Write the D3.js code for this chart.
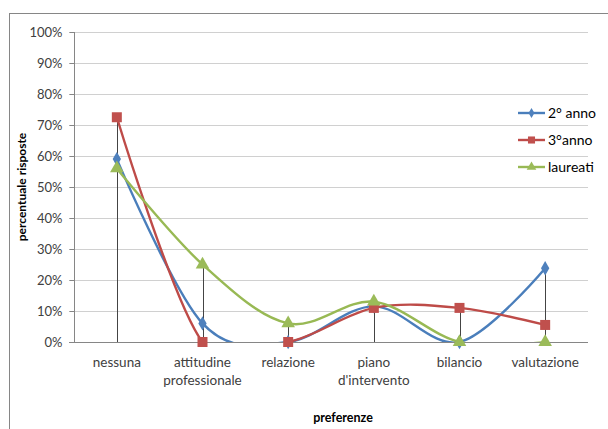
<!DOCTYPE html>
<html>
<head>
<meta charset="utf-8">
<script src="https://cdn.jsdelivr.net/npm/d3@7"></script>
<style>
  html, body { margin: 0; padding: 0; background: #fff; }
  svg { display: block; font-family: Lato, "Liberation Sans", sans-serif; }
</style>
</head>
<body>
<svg id="chart" width="608" height="429"></svg>
<script>
// Categories (x axis), multi-line labels
const categories = ["nessuna", "attitudine professionale", "relazione", "piano d'intervento", "bilancio", "valutazione"];
const categoryLines = [["nessuna"], ["attitudine", "professionale"], ["relazione"], ["piano", "d'intervento"], ["bilancio"], ["valutazione"]];

// Percentage of answers per series
const anno2 = [59, 6, 0, 11.5, 0, 23.8];
const anno3 = [72.5, 0, 0, 11, 11, 5.5];
const laureati = [56, 25, 6, 13, 0, 0];

const seriesNames = ["2° anno", "3°anno", "laureati"];
const yTicks = [0, 10, 20, 30, 40, 50, 60, 70, 80, 90, 100];

const series = [
  { name: seriesNames[0], values: anno2, line: "#4A7EBB", fill: "#4F81BD", symbol: "diamond" },
  { name: seriesNames[1], values: anno3, line: "#BE4B48", fill: "#C0504D", symbol: "square" },
  { name: seriesNames[2], values: laureati, line: "#98B954", fill: "#9BBB59", symbol: "triangle" }
];

const svg = d3.select("#chart");

// chart frame
svg.append("rect")
  .attr("x", 9.5).attr("y", 13.5)
  .attr("width", 620).attr("height", 440)
  .attr("fill", "#fff").attr("stroke", "#868686").attr("stroke-width", 1);

const plot = { left: 74, right: 588, top: 32, bottom: 342 };

const x = d3.scaleBand().domain(categories).range([plot.left, plot.right]);
const y = d3.scaleLinear().domain([0, 100]).range([plot.bottom, plot.top]);
const cx = c => x(c) + x.bandwidth() / 2;

// horizontal gridlines
svg.append("g")
  .selectAll("line")
  .data(yTicks)
  .join("line")
  .attr("x1", plot.left - 5).attr("x2", plot.right)
  .attr("y1", d => Math.round(y(d)) + 0.5).attr("y2", d => Math.round(y(d)) + 0.5)
  .attr("stroke", d => d === 0 ? "#868686" : "#D0D0D0")
  .attr("stroke-width", 1.2);

// y axis
const yAxis = d3.axisLeft(y).tickValues(yTicks).tickFormat(d => d + "%").tickSize(5).tickPadding(7);
const gy = svg.append("g").attr("transform", `translate(${plot.left + 0.5},0)`).call(yAxis);
gy.select(".domain").attr("stroke", "#868686").attr("d", `M0,${plot.top}V${plot.bottom}`);
gy.selectAll(".tick line").attr("stroke", "#868686");
gy.selectAll(".tick text").attr("font-size", 13).attr("fill", "#404040").attr("font-family", "Lato, sans-serif");

// x category labels
const xl = svg.append("g");
categories.forEach((c, i) => {
  const t = xl.append("text")
    .attr("x", cx(c)).attr("y", 367)
    .attr("text-anchor", "middle")
    .attr("font-size", 13.5).attr("fill", "#404040");
  categoryLines[i].forEach((ln, j) => {
    t.append("tspan").attr("x", cx(c)).attr("dy", j === 0 ? 0 : 18).text(ln);
  });
});

// axis titles
svg.append("text")
  .attr("transform", "translate(26,187) rotate(-90)")
  .attr("text-anchor", "middle")
  .attr("font-size", 12).attr("font-weight", "bold").attr("fill", "#000")
  .text("percentuale risposte");

svg.append("text")
  .attr("x", 343).attr("y", 422)
  .attr("text-anchor", "middle")
  .attr("font-size", 12.5).attr("font-weight", "bold").attr("fill", "#000")
  .text("preferenze");

// clip for smoothed lines
svg.append("clipPath").attr("id", "plotClip")
  .append("rect")
  .attr("x", plot.left).attr("y", plot.top)
  .attr("width", plot.right - plot.left).attr("height", plot.bottom - plot.top);

// drop lines from the highest value down to the axis
svg.append("g")
  .selectAll("line")
  .data(categories)
  .join("line")
  .attr("x1", d => Math.round(cx(d)) + 0.5).attr("x2", d => Math.round(cx(d)) + 0.5)
  .attr("y1", (d, i) => y(d3.max(series, s => s.values[i])))
  .attr("y2", y(0))
  .attr("stroke", "#444").attr("stroke-width", 1);

const lineGen = d3.line()
  .x((d, i) => cx(categories[i]))
  .y(d => y(d))
  .curve(d3.curveCardinal.tension(0));

const lines = svg.append("g").attr("clip-path", "url(#plotClip)");
series.forEach(s => {
  lines.append("path")
    .datum(s.values)
    .attr("d", lineGen)
    .attr("fill", "none")
    .attr("stroke", s.line)
    .attr("stroke-width", 2.4)
    .attr("stroke-linejoin", "round");
});

const symbols = { diamond: d3.symbolDiamond, square: d3.symbolSquare, triangle: d3.symbolTriangle };
const symbolSize = { diamond: 60, square: 100, triangle: 80 };

series.forEach(s => {
  svg.append("g")
    .selectAll("path")
    .data(s.values)
    .join("path")
    .attr("transform", (d, i) => `translate(${cx(categories[i])},${y(d)})`)
    .attr("d", d3.symbol().type(symbols[s.symbol]).size(symbolSize[s.symbol]))
    .attr("fill", s.fill);
});

// legend
const legend = svg.append("g");
series.forEach((s, i) => {
  const ly = 113 + i * 27;
  legend.append("line")
    .attr("x1", 518).attr("x2", 545).attr("y1", ly).attr("y2", ly)
    .attr("stroke", s.line).attr("stroke-width", 2.4);
  const sz = { diamond: 30, square: 50, triangle: 40 }[s.symbol];
  legend.append("path")
    .attr("transform", `translate(531.5,${ly})`)
    .attr("d", d3.symbol().type(symbols[s.symbol]).size(sz))
    .attr("fill", s.fill);
  legend.append("text")
    .attr("x", 548).attr("y", ly + 5)
    .attr("font-size", 14).attr("fill", "#000")
    .text(s.name);
});
</script>
</body>
</html>
